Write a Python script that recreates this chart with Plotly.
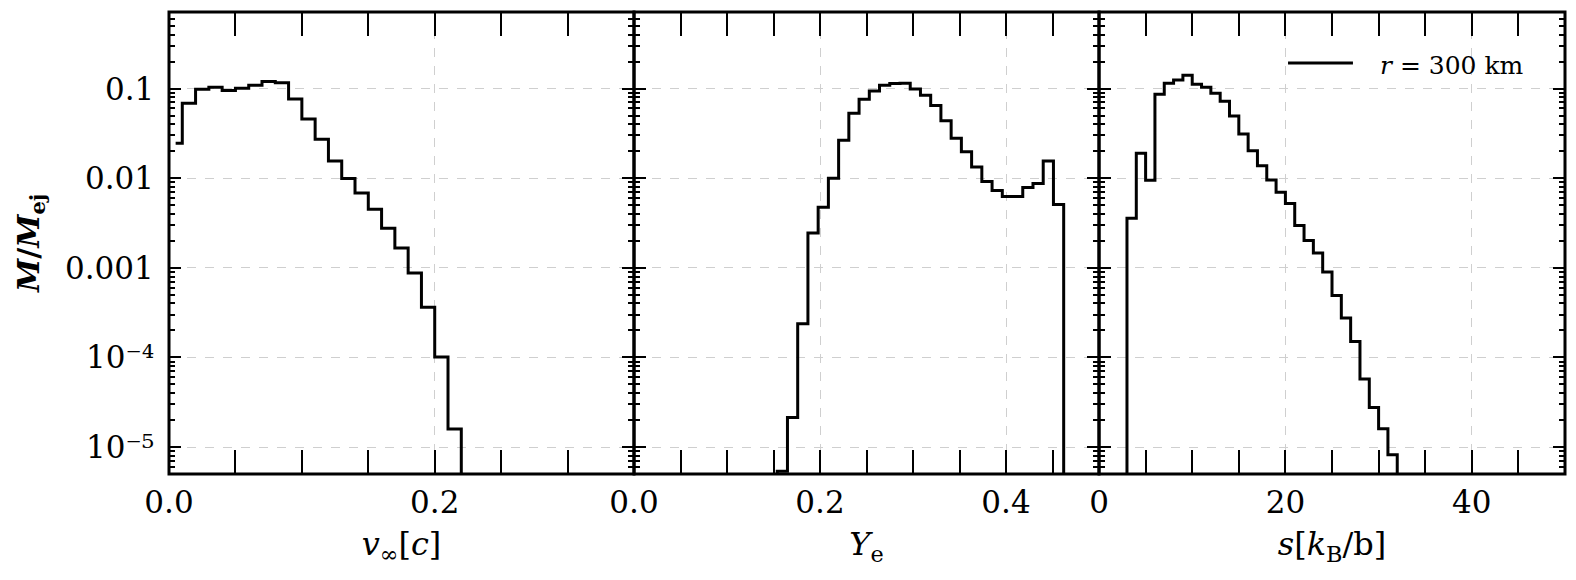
import math
import plotly.graph_objects as go

# mass fraction histograms, r = 300 km extraction sphere
# zeros = empty bins (drawn below the log range)
v_width = 0.01
v_frac = [0.0245, 0.0686, 0.0984, 0.1035, 0.095, 0.101, 0.109, 0.1197, 0.1166, 0.0767,
          0.0459, 0.0272, 0.0156, 0.0099, 0.00686, 0.00451, 0.00277, 0.00166, 0.000873,
          0.000364, 0.000101, 1.59e-5,
          0, 0, 0, 0, 0, 0, 0, 0, 0, 0, 0, 0, 0]

ye_width = 0.011
ye_frac = [0] * 14 + [5.35e-6, 2.14e-5, 2.37e-4, 0.00244, 0.00475, 0.0100, 0.0265, 0.0531,
                      0.0760, 0.0942, 0.109, 0.114, 0.115, 0.099, 0.0843, 0.0646, 0.0439,
                      0.0279, 0.0198, 0.0133, 0.00918, 0.00728, 0.00625, 0.00625, 0.00787,
                      0.00873, 0.0156, 0.00508] + [0] * 4

s_width = 1.0
s_frac = [0] * 3 + [0.00358, 0.0190, 0.0095, 0.0865, 0.1146, 0.125, 0.141, 0.1117, 0.1035,
                    0.0887, 0.0723, 0.0496, 0.0312, 0.0202, 0.0138, 0.00957, 0.00698, 0.00522,
                    0.00296, 0.00202, 0.00146, 0.000896, 0.000491, 0.000275, 0.000151,
                    5.73e-5, 2.77e-5, 1.60e-5, 8.2e-6] + [0] * 18

panels = [
    (v_frac, v_width, [0, 0.35], [0, 0.2], ["0.0", "0.2"], 0.05, "<i>v</i><sub>∞</sub>[<i>c</i>]"),
    (ye_frac, ye_width, [0, 0.5], [0, 0.2, 0.4], ["0.0", "0.2", "0.4"], 0.05, "<i>Y</i><sub>e</sub>"),
    (s_frac, s_width, [0, 50], [0, 20, 40], ["0", "20", "40"], 5, "<i>s</i>[<i>k</i><sub>B</sub>/b]"),
]

FLOOR = 1e-12  # empty bins -> off-scale
SERIF = "DejaVu Serif"
domains = [[0, 0.3331], [0.3331, 0.6662], [0.6662, 1.0]]

ytickvals = [1e-5, 1e-4, 1e-3, 1e-2, 1e-1]
yticktext = ["10⁻⁵", "10⁻⁴", "0.001", "0.01", "0.1"]
yminor = [k * 10.0 ** n for n in range(-6, 0) for k in range(2, 10)]

fig = go.Figure()
layout = {}
for i, (frac, w, xr, xt, xtt, xminor, xtitle) in enumerate(panels):
    n = "" if i == 0 else str(i + 1)
    centers = [w * (k + 0.5) for k in range(len(frac))]
    fig.add_trace(go.Scatter(
        x=centers, y=[f if f > 0 else FLOOR for f in frac],
        mode="lines", line=dict(color="black", width=3, shape="hvh"),
        xaxis="x" + n, yaxis="y" + n, showlegend=False, hoverinfo="skip"))
    layout["xaxis" + n] = dict(
        domain=domains[i], range=xr, anchor="y" + n,
        tickmode="array", tickvals=xt, ticktext=xtt,
        ticks="inside", ticklen=24, tickwidth=2, tickcolor="black",
        minor=dict(dtick=xminor, tick0=0, ticks="inside", ticklen=24, tickwidth=2,
                   tickcolor="black", showgrid=False),
        showline=False, mirror="ticks",
        showgrid=True, gridcolor="#cfcfcf", griddash="dash", gridwidth=1,
        zeroline=False, tickfont=dict(family=SERIF, size=31, color="black"),
        ticklabelstandoff=7,
        title=dict(text=xtitle, font=dict(family=SERIF, size=32, color="black"), standoff=13),
    )
    layout["yaxis" + n] = dict(
        type="log", range=[-5.301, -0.145], anchor="x" + n,
        tickmode="array", tickvals=ytickvals,
        showticklabels=False,
        ticks="inside", ticklen=12, tickwidth=2, tickcolor="black",
        minor=dict(tickmode="array", tickvals=yminor, ticks="inside", ticklen=6,
                   tickwidth=2, tickcolor="black", showgrid=False),
        showline=False, mirror="ticks",
        showgrid=True, gridcolor="#cfcfcf", griddash="dash", gridwidth=1,
        zeroline=False,
    )
    # panel frame (shared edges drawn once, same thickness as outer ones)
    fig.add_shape(type="rect", xref="x" + n + " domain", yref="y" + n + " domain",
                  x0=0, x1=1, y0=0, y1=1, line=dict(color="black", width=3), layer="above")

# page body adds an 8px offset, so the figure is 8px smaller on each side
fig.update_layout(
    **layout,
    width=1568, height=572,
    margin=dict(l=161, r=11, t=4, b=106),
    paper_bgcolor="white", plot_bgcolor="white",
    showlegend=False,
)

# y tick labels, right-aligned a few px left of the frame
for val, txt in zip(ytickvals, yticktext):
    fig.add_annotation(xref="paper", yref="y", x=-0.0093, y=math.log10(val),
                       xanchor="right", yanchor="middle", showarrow=False, text=txt,
                       font=dict(family=SERIF, size=31, color="black"))

# y axis title
fig.add_annotation(xref="paper", yref="paper", x=-0.0996, y=0.5, textangle=-90,
                   xanchor="center", yanchor="middle", showarrow=False,
                   text="<b><i>M</i>/<i>M</i><sub>ej</sub></b>",
                   font=dict(family=SERIF, size=30, color="black"))

# legend drawn by hand (long line sample like the original)
fig.add_shape(type="line", xref="paper", yref="paper",
              x0=0.8016, x1=0.8481, y0=0.8896, y1=0.8896,
              line=dict(color="black", width=3))
fig.add_annotation(xref="paper", yref="paper", x=0.866, y=0.884,
                   xanchor="left", yanchor="middle", showarrow=False,
                   text="<i>r</i> = 300 km",
                   font=dict(family=SERIF, size=25, color="black"))

fig.write_html("out.html")
